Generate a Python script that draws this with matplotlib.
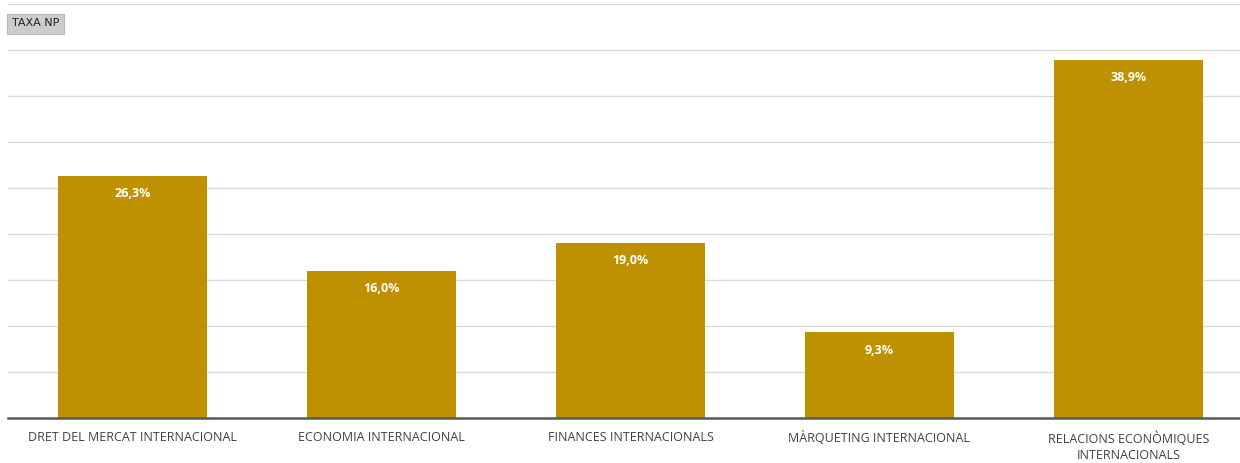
import matplotlib.pyplot as plt
import numpy as np

# ------------------------------------------------------------
# data
# ------------------------------------------------------------
categories = ['DRET DEL MERCAT INTERNACIONAL', 'ECONOMIA INTERNACIONAL',
              'FINANCES INTERNACIONALS', 'MÀRQUETING INTERNACIONAL',
              'RELACIONS ECONÒMIQUES\nINTERNACIONALS']
taxa_np = [26.3, 16.0, 19.0, 9.3, 38.9]
value_labels = ['26,3%', '16,0%', '19,0%', '9,3%', '38,9%']

BAR_COLOR = '#BF9000'
FONT = 'Open Sans'

fig = plt.figure(figsize=(12.4, 4.63), dpi=100)
# plot area runs slightly past the right edge (screenshot is cropped)
ax = fig.add_axes([8 / 1240, 45 / 463, 1245 / 1240, 414 / 463])

x = np.arange(len(categories))
ax.bar(x, taxa_np, width=0.6, color=BAR_COLOR, zorder=2)
ax.set_xlim(-0.5, len(categories) - 0.5)
ax.set_ylim(0, 45)

ax.set_yticks(np.arange(0, 46, 5))
ax.yaxis.grid(True, color='#DADADA', linewidth=1, zorder=0)
ax.tick_params(axis='y', left=False, labelleft=False)
ax.tick_params(axis='x', bottom=False, pad=6)
ax.set_xticks(x)
ax.set_xticklabels(categories, fontsize=9, color='#404040', family=FONT,
                   linespacing=1.3, va='top')
for s in ['top', 'right', 'left']:
    ax.spines[s].set_visible(False)
ax.spines['bottom'].set_color('#595959')
ax.spines['bottom'].set_linewidth(1.8)
ax.spines['bottom'].set_zorder(3)

for xi, v, lab in zip(x, taxa_np, value_labels):
    ax.annotate(lab, (xi, v), xytext=(0, -8), textcoords='offset points',
                ha='center', va='top', color='white', fontsize=9,
                fontweight='bold', family=FONT)

# the "TAXA NP" field button in the corner
fig.text(35.5 / 1240, 1 - 23.5 / 463, 'TAXA NP', ha='center', va='center',
         fontsize=8, color='#202020', family='Liberation Sans Narrow',
         bbox=dict(boxstyle='square,pad=0.45', fc='#CDCDCD', ec='#B8B8B8',
                   lw=0.8))

fig.savefig('out.png', dpi=100)
